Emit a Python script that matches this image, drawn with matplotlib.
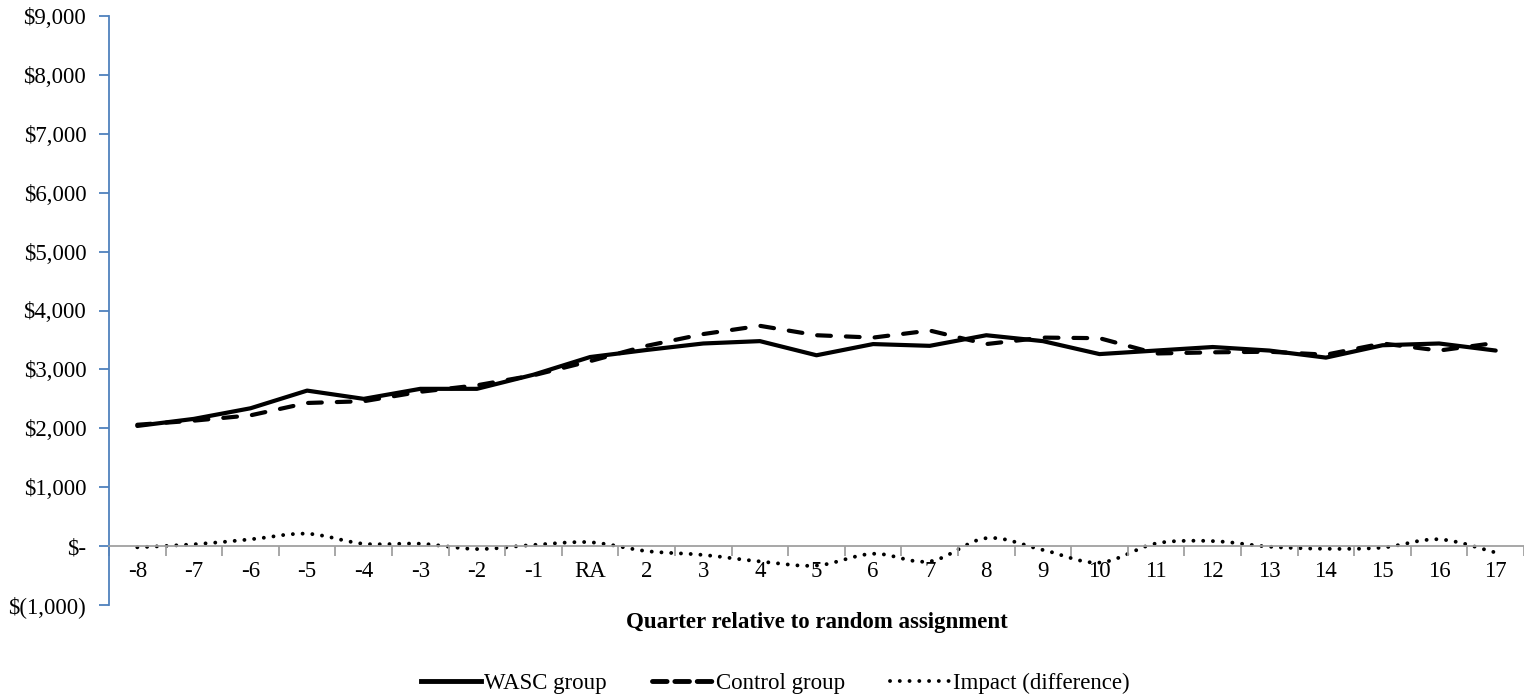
import matplotlib.pyplot as plt
from matplotlib.path import Path
from matplotlib.patches import PathPatch
from matplotlib.lines import Line2D
from matplotlib.ticker import FuncFormatter

# Quarterly earnings relative to random assignment
quarters = ['-8', '-7', '-6', '-5', '-4', '-3', '-2', '-1', 'RA', '2', '3', '4', '5',
            '6', '7', '8', '9', '10', '11', '12', '13', '14', '15', '16', '17']
wasc = [2040, 2160, 2340, 2640, 2500, 2670, 2670, 2910, 3210, 3330, 3440, 3480, 3240,
        3430, 3400, 3580, 3480, 3260, 3320, 3380, 3320, 3200, 3410, 3440, 3320]
control = [2060, 2130, 2220, 2430, 2460, 2620, 2730, 2900, 3140, 3400, 3600, 3740, 3580,
           3540, 3660, 3430, 3540, 3530, 3270, 3290, 3300, 3250, 3440, 3320, 3450]
impact = [-20, 30, 115, 210, 40, 40, -50, 20, 65, -85, -150, -260, -330,
          -130, -260, 135, -65, -280, 45, 85, -10, -45, -25, 115, -110]

plt.rcParams['font.family'] = ['Liberation Serif', 'DejaVu Serif']
fs = 16.5
dash = (0, (3.3, 3.6))
dots = (0, (0.01, 2.5))

fig = plt.figure(figsize=(15.24, 7.0), dpi=100)
ax = fig.add_axes([109 / 1524, 1 - 605 / 700, 1415 / 1524, 589 / 700])

x = list(range(len(quarters)))
ax.plot(x, wasc, color='black', lw=3, solid_capstyle='round', solid_joinstyle='round')
ax.plot(x, control, color='black', lw=3, linestyle=dash, dash_capstyle='round')

# smoothed impact line (Excel style), bezier control points from neighbours
verts = [(x[0], impact[0])]
codes = [Path.MOVETO]
t = 1 / 6
for i in range(len(x) - 1):
    p0 = (x[max(i - 1, 0)], impact[max(i - 1, 0)])
    p1 = (x[i], impact[i])
    p2 = (x[i + 1], impact[i + 1])
    p3 = (x[min(i + 2, len(x) - 1)], impact[min(i + 2, len(x) - 1)])
    c1 = (p1[0] + (p2[0] - p0[0]) * t, p1[1] + (p2[1] - p0[1]) * t)
    c2 = (p2[0] - (p3[0] - p1[0]) * t, p2[1] - (p3[1] - p1[1]) * t)
    verts += [c1, c2, p2]
    codes += [Path.CURVE4] * 3
patch = PathPatch(Path(verts, codes), facecolor='none', edgecolor='black', lw=2.8,
                  linestyle=dots)
patch.set_capstyle('round')
ax.add_patch(patch)

ax.set_xlim(-0.5, len(quarters) - 0.5)
ax.set_ylim(-1000, 9000)
ax.set_yticks(range(-1000, 9001, 1000))


def money(v, pos):
    if v == 0:
        return '$-'
    if v < 0:
        return '$({:,.0f})'.format(-v)
    return '${:,.0f}'.format(v)


ax.yaxis.set_major_formatter(FuncFormatter(money))
ax.set_xticks(x)
ax.set_xticklabels(quarters)
ax.set_xticks([i + 0.5 for i in range(-1, len(quarters))], minor=True)

for s in ['top', 'right']:
    ax.spines[s].set_visible(False)
ax.spines['left'].set_color('#4F81BD')
ax.spines['left'].set_linewidth(1.3)
ax.spines['bottom'].set_position(('data', 0))
ax.spines['bottom'].set_color('#A0A0A0')
ax.spines['bottom'].set_linewidth(1.3)

ax.tick_params(axis='y', direction='out', length=7, width=1.3, color='#4F81BD',
               labelsize=fs, pad=9.4)
ax.tick_params(axis='x', which='major', length=0, labelsize=fs, pad=11)
ax.tick_params(axis='x', which='minor', direction='out', length=7, width=1.3, color='#A0A0A0')

ax.text(0.5, -0.03, 'Quarter relative to random assignment', transform=ax.transAxes,
        ha='center', va='center', fontsize=fs, fontweight='bold')

handles = [Line2D([], [], color='black', lw=3.5),
           Line2D([], [], color='black', lw=3.5, linestyle=(0, (3, 1.6)), dash_capstyle='round'),
           Line2D([], [], color='black', lw=2.8, linestyle=dots, dash_capstyle='round')]
fig.legend(handles, ['WASC group', 'Control group', 'Impact (difference)'],
           loc='center left', bbox_to_anchor=(421 / 1524, 1 - 683 / 700), ncol=3,
           frameon=False, fontsize=fs, handlelength=2.6, columnspacing=2.0,
           handletextpad=0.15, borderaxespad=0, borderpad=0)

fig.savefig('out.png', dpi=100)
